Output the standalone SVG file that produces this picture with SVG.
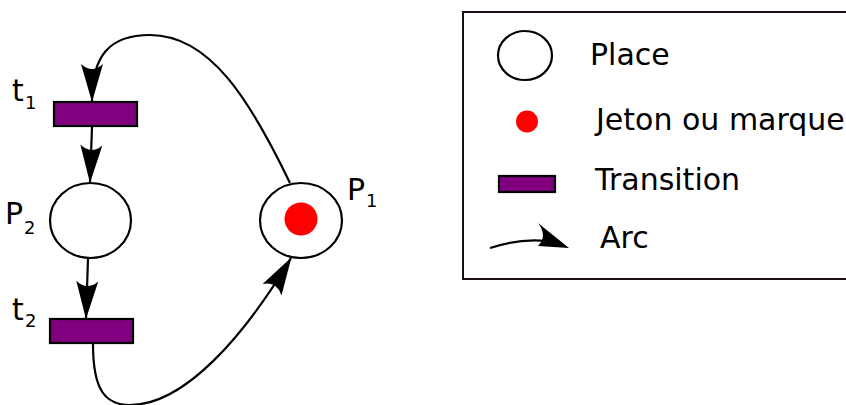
<svg xmlns="http://www.w3.org/2000/svg" width="846" height="405" viewBox="0 0 846 405">
  <style>
    .place { fill: #ffffff; stroke: #000000; stroke-width: 2.2; }
    .trans { fill: #800080; stroke: #000000; stroke-width: 2.2; }
    .token { fill: #ff0000; stroke: none; }
    .arc { fill: none; stroke: #000000; stroke-width: 2.2; marker-end: url(#arrow); }
    .lbl { font-family: "DejaVu Sans", "Liberation Sans", sans-serif; font-size: 30px; fill: #000000; }
    .sub { font-family: "DejaVu Sans", "Liberation Sans", sans-serif; font-size: 18px; fill: #000000; }
  </style>
  <defs>
    <marker id="arrow" markerUnits="userSpaceOnUse" viewBox="-40 -13 42 26" refX="0" refY="0" markerWidth="42" markerHeight="26" orient="auto">
      <path d="M1,0 L-37,-11 Q-27,0 -37,11 Z" fill="#000000"/>
    </marker>
  </defs>

  <g id="connectors">
    <path class="arc" d="M290,183 C250,100 210,35 150,35 C110,35 92,55 92,101"/>
    <path class="arc" d="M92,127 L90,182"/>
    <path class="arc" d="M88,259 L86,318"/>
    <path class="arc" d="M93,344 C93,390 105,405 130,405 C185,405 245,335 291,258"/>
  </g>

  <g id="t1">
    <rect class="trans" x="54" y="102" width="83" height="24"/>
    <text class="lbl" x="12" y="101">t</text>
    <text class="sub" x="25" y="109">1</text>
  </g>

  <g id="P2">
    <ellipse class="place" cx="90.5" cy="220.5" rx="40.5" ry="37.5"/>
    <text class="lbl" x="5" y="224">P</text>
    <text class="sub" x="24" y="234">2</text>
  </g>

  <g id="t2">
    <rect class="trans" x="50" y="319" width="83" height="24"/>
    <text class="lbl" x="12" y="320">t</text>
    <text class="sub" x="25" y="327">2</text>
  </g>

  <g id="P1">
    <ellipse class="place" cx="301" cy="220.5" rx="41" ry="37.5"/>
    <circle class="token" cx="301" cy="219" r="16.5"/>
    <text class="lbl" x="347" y="200">P</text>
    <text class="sub" x="366" y="207">1</text>
  </g>

  <g id="legend">
    <rect x="463" y="12" width="400" height="267" fill="none" stroke="#1a1010" stroke-width="2"/>
    <ellipse class="place" cx="525" cy="55.5" rx="27" ry="24.5"/>
    <text class="lbl" x="590" y="65">Place</text>
    <circle class="token" cx="527" cy="121.5" r="11"/>
    <text class="lbl" x="596" y="130">Jeton ou marque</text>
    <rect class="trans" x="499" y="176" width="56" height="16"/>
    <text class="lbl" x="595" y="190">Transition</text>
    <path d="M490,248 C508,242 525,239 546,241" fill="none" stroke="#000000" stroke-width="2.2"/>
    <path d="M538,223 L569,248 L538,246 Q548,236 538,223 Z" fill="#000000"/>
    <text class="lbl" x="600" y="248">Arc</text>
  </g>
</svg>
